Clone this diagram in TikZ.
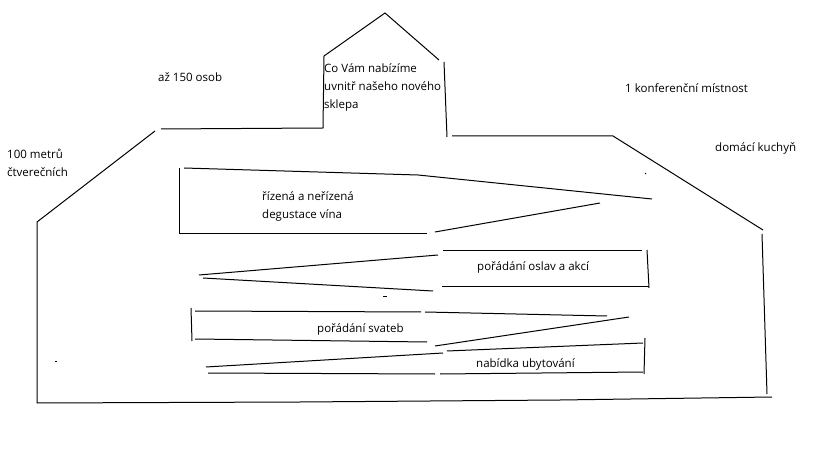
\documentclass[tikz,border=0pt]{standalone}
\usepackage{fontspec}
\setmainfont{Open Sans}
\begin{document}
\begin{tikzpicture}[x=1bp,y=-1bp,
  pen/.style={line width=1bp,black},
  lbl/.style={anchor=west,inner sep=0pt,font=\fontsize{11.5bp}{18bp}\selectfont,align=left}]
\useasboundingbox (0,0) rectangle (819,460);
% outline of building
\draw[pen] (37,403) -- (37,222) -- (155,131);
\draw[pen] (161,129) -- (323,128) -- (324,56) -- (385,13) -- (439,60);
\draw[pen] (444,62) -- (447,137);
\draw[pen] (452,136) -- (613,136) -- (763,230);
\draw[pen] (762,234) -- (767,394);
\draw[pen] (37,403) -- (300,402) -- (560,400) -- (772,397);
% wedges
\draw[pen] (179,168) -- (179,234);
\draw[pen] (184,168) -- (418,175) -- (652,199);
\draw[pen] (180,234) -- (427,234);
\draw[pen] (435,232) -- (600,203);
\draw[pen] (645,173) -- (646,174);
\draw[pen] (199,275) -- (438,255);
\draw[pen] (443,251) -- (642,251);
\draw[pen] (647,250) -- (649,288);
\draw[pen] (203,278) -- (433,291);
\draw[pen] (442,287) -- (649,287);
\draw[pen] (383,297) -- (387,297);
\draw[pen] (191,308) -- (192,341);
\draw[pen] (195,311) -- (421,312);
\draw[pen] (425,312) -- (607,316);
\draw[pen] (195,339) -- (427,342);
\draw[pen] (435,346) -- (629,317);
\draw[pen] (206,367) -- (443,353);
\draw[pen] (447,351) -- (643,343);
\draw[pen] (645,338) -- (644,374);
\draw[pen] (208,373) -- (435,374);
\draw[pen] (440,374) -- (643,372);
\draw[pen] (55,362) -- (57,362);
% texts
\node[lbl] (cap) at (158,77) {až 150 osob};
\node[lbl,anchor=north west] (offer) at (324,63) {Co Vám nabízíme\\uvnitř našeho nového\\sklepa};
\node[lbl,anchor=north west] (area) at (7,149) {100 metrů\\čtverečních};
\node[lbl] (conf) at (625,88) {1 konferenční místnost};
\node[lbl] (kitchen) at (715,148) {domácí kuchyň};
\node[lbl,anchor=north west] (tasting) at (262,191) {řízená a neřízená\\degustace vína};
\node[lbl] (party) at (477,267) {pořádání oslav a akcí};
\node[lbl] (wedding) at (317,329) {pořádání svateb};
\node[lbl] (stay) at (476,364) {nabídka ubytování};
\end{tikzpicture}
\end{document}
